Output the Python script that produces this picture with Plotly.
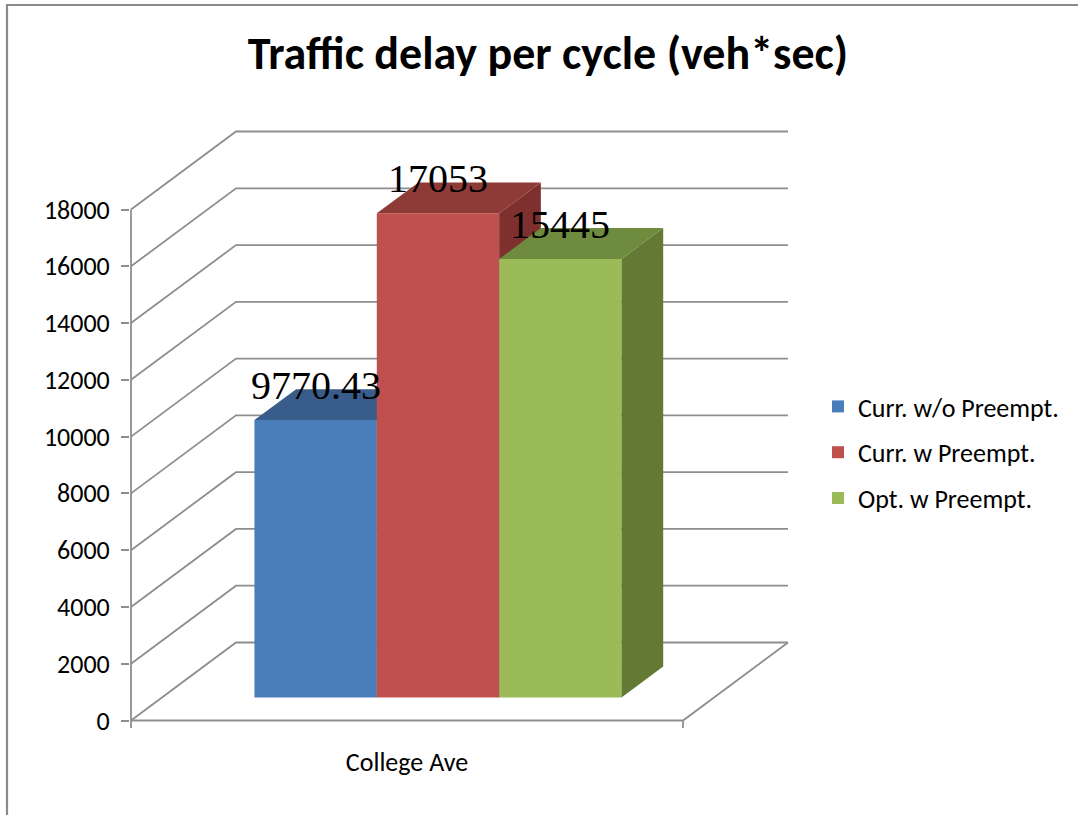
import plotly.graph_objects as go

# ---------------- data ----------------
categories = ["College Ave"]
series_names = ["Curr. w/o Preempt.", "Curr. w Preempt.", "Opt. w Preempt."]
series_values = [9770.43, 17053, 15445]
y_tick_values = [0, 2000, 4000, 6000, 8000, 10000, 12000, 14000, 16000, 18000]
y_tick_labels = ["0", "2000", "4000", "6000", "8000", "10000", "12000", "14000", "16000", "18000"]
chart_title = "Traffic delay per cycle (veh*sec)"

# face colours per series: front, top, right side
front_colors = ["#4A7EBB", "#C0504D", "#9BBB59"]
top_colors = ["#385D8A", "#8E3A36", "#6F8C3E"]
side_colors = ["#2F5079", "#7D302D", "#637934"]

# ---------------- geometry of the pseudo-3D box ----------------
W, H = 1078, 815
PLOT_L, PLOT_R, PLOT_T, PLOT_B = 130, 800, 115, 732      # plot area in page pixels
FLOOR_LEFT_PX, FLOOR_RIGHT_PX = 131, 683                 # front edge of the floor
ZERO_PX, TOP_TICK_PX = 720.5, 209.5                      # value 0 and top tick on the front plane
CAT_PX = FLOOR_RIGHT_PX - FLOOR_LEFT_PX
UNITS_PER_PX = y_tick_values[-1] / (ZERO_PX - TOP_TICK_PX)


def px_to_x(px):
    return (px - FLOOR_LEFT_PX) / CAT_PX - 0.5


def px_to_v(py):
    return (ZERO_PX - py) * UNITS_PER_PX


DEPTH_DX = 105 / CAT_PX            # full depth of the floor, in category units
DEPTH_DV = 78 * UNITS_PER_PX       # full depth of the floor, in value units
BAR_FRONT = 0.295                  # depth where the bar fronts sit
BAR_DEPTH = 0.397                  # depth of each bar
GROUP_W = 0.665
BAR_W = GROUP_W / len(series_values)

GRID_COLOR = "#8E8E8E"
TEXT_FONT = "Calibri, Carlito, Lato, sans-serif"
LABEL_SIZE = 26

x_range = [px_to_x(PLOT_L), px_to_x(PLOT_R)]
y_range = [px_to_v(PLOT_B), px_to_v(PLOT_T)]

fig = go.Figure()

axis_ids = ["", "2", "3"]
cat_x = 0 + BAR_FRONT * DEPTH_DX
base_v = BAR_FRONT * DEPTH_DV
ddx = BAR_DEPTH * DEPTH_DX
ddv = BAR_DEPTH * DEPTH_DV

annotations = []
for i, (name, val) in enumerate(zip(series_names, series_values)):
    xa, ya = "x" + axis_ids[i], "y" + axis_ids[i]
    x0 = cat_x - GROUP_W / 2 + i * BAR_W
    x1 = x0 + BAR_W
    top = base_v + val

    # right side face
    fig.add_trace(go.Scatter(
        x=[x1, x1 + ddx, x1 + ddx, x1, x1],
        y=[base_v, base_v + ddv, top + ddv, top, base_v],
        fill="toself", fillcolor=side_colors[i], mode="lines",
        line=dict(width=0, color=side_colors[i]),
        showlegend=False, hoverinfo="skip", xaxis=xa, yaxis=ya))
    # top face
    fig.add_trace(go.Scatter(
        x=[x0, x1, x1 + ddx, x0 + ddx, x0],
        y=[top, top, top + ddv, top + ddv, top],
        fill="toself", fillcolor=top_colors[i], mode="lines",
        line=dict(width=0, color=top_colors[i]),
        showlegend=False, hoverinfo="skip", xaxis=xa, yaxis=ya))
    # front face
    fig.add_trace(go.Bar(
        x=[cat_x], y=[val], base=[base_v], width=[BAR_W],
        offset=[-GROUP_W / 2 + i * BAR_W],
        marker=dict(color=front_colors[i], line=dict(width=0)),
        name=name, legendgroup=name, xaxis=xa, yaxis=ya))

    annotations.append(dict(
        x=(x0 + x1) / 2, y=top, xref="x", yref="y",
        text=f"{val:g}", showarrow=False, yanchor="bottom", yshift=10,
        font=dict(family="Times New Roman, Liberation Serif, serif", size=40, color="#000000")))

# gridlines: diagonal on the left wall, horizontal on the back wall
shapes = []
for v in y_tick_values:
    shapes.append(dict(
        type="path", xref="x", yref="y", layer="below",
        path=f"M {-0.5},{v} L {-0.5 + DEPTH_DX},{v + DEPTH_DV} L {0.5 + DEPTH_DX},{v + DEPTH_DV}",
        line=dict(color=GRID_COLOR, width=1.8)))
# floor front and right edges
shapes.append(dict(
    type="path", xref="x", yref="y", layer="below",
    path=f"M {-0.5},0 L {0.5},0 L {0.5 + DEPTH_DX},{DEPTH_DV}",
    line=dict(color=GRID_COLOR, width=1.8)))
# value axis line and category boundary ticks
shapes.append(dict(type="line", xref="x", yref="y", layer="below",
                   x0=-0.5, x1=-0.5, y0=px_to_v(728), y1=y_tick_values[-1],
                   line=dict(color=GRID_COLOR, width=1.8)))
shapes.append(dict(type="line", xref="x", yref="y", layer="below",
                   x0=0.5, x1=0.5, y0=px_to_v(728), y1=0,
                   line=dict(color=GRID_COLOR, width=1.8)))


# chart border
def paper_x(px):
    return (px - PLOT_L) / (PLOT_R - PLOT_L)


def paper_y(py):
    return (PLOT_B - py) / (PLOT_B - PLOT_T)


shapes.append(dict(type="rect", xref="paper", yref="paper",
                   x0=paper_x(7), x1=paper_x(W + 20), y0=paper_y(5), y1=paper_y(H + 20),
                   line=dict(color="#8A8A8A", width=2.2), fillcolor="rgba(0,0,0,0)"))

layout_axes = {}
for k in axis_ids:
    xa = dict(range=x_range, showgrid=False, zeroline=False, showline=False, fixedrange=True)
    ya = dict(range=y_range, showgrid=False, zeroline=False, showline=False, fixedrange=True)
    if k == "":
        xa.update(tickvals=[0], ticktext=categories, ticks="",
                  tickfont=dict(family=TEXT_FONT, size=LABEL_SIZE, color="#000000"),
                  ticklabelstandoff=12)
        ya.update(tickvals=y_tick_values, ticktext=y_tick_labels, ticks="outside",
                  ticklen=8, tickwidth=1.8, tickcolor=GRID_COLOR,
                  tickfont=dict(family=TEXT_FONT, size=LABEL_SIZE, color="#000000"),
                  ticklabelstandoff=6)
    else:
        xa.update(visible=False, overlaying="x", anchor="y" + k)
        ya.update(visible=False, overlaying="y", anchor="x" + k)
    layout_axes["xaxis" + k] = xa
    layout_axes["yaxis" + k] = ya

fig.update_layout(
    width=W, height=H,
    margin=dict(l=PLOT_L, r=W - PLOT_R, t=PLOT_T, b=H - PLOT_B, autoexpand=False),
    paper_bgcolor="white", plot_bgcolor="white",
    title=dict(text=chart_title, x=548 / W, xanchor="center",
               y=1 - 53 / H, yanchor="middle",
               font=dict(family=TEXT_FONT, size=46, color="#000000", weight="bold")),
    legend=dict(x=paper_x(818), y=paper_y(383), xanchor="left", yanchor="top",
                font=dict(family=TEXT_FONT, size=LABEL_SIZE, color="#000000"),
                tracegroupgap=9, bgcolor="rgba(0,0,0,0)"),
    barmode="overlay",
    shapes=shapes, annotations=annotations,
    showlegend=True,
    **layout_axes,
)

fig.write_html("out.html")
